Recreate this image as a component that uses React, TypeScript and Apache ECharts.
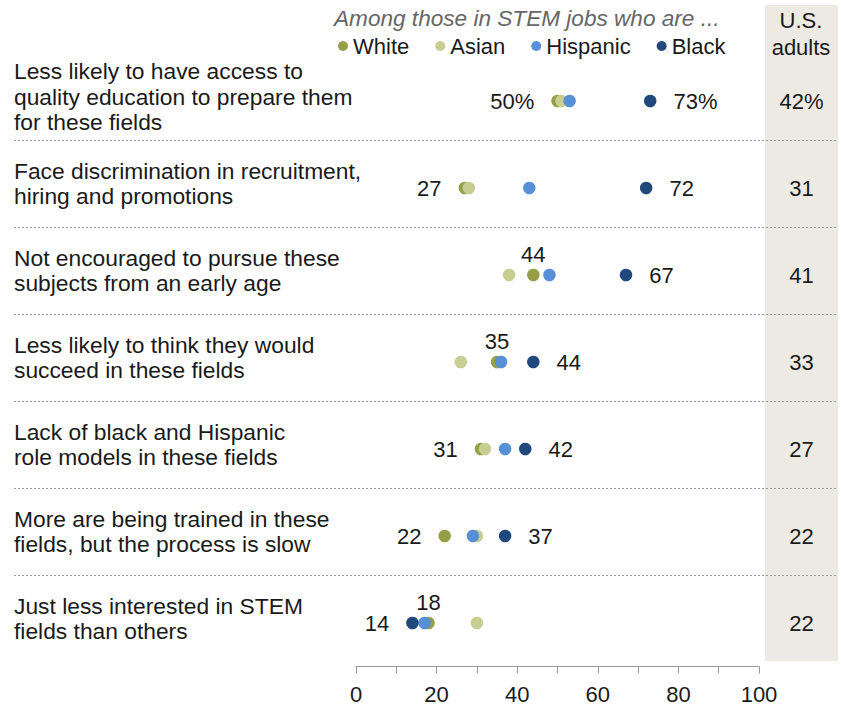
import React, { useEffect, useRef } from "react";
import * as echarts from "echarts";

const categories = [
  "Less likely to have access to\nquality education to prepare them\nfor these fields",
  "Face discrimination in recruitment,\nhiring and promotions",
  "Not encouraged to pursue these\nsubjects from an early age",
  "Less likely to think they would\nsucceed in these fields",
  "Lack of black and Hispanic\nrole models in these fields",
  "More are being trained in these\nfields, but the process is slow",
  "Just less interested in STEM\nfields than others",
];

const white = [50, 27, 44, 35, 31, 22, 18];
const asian = [51, 28, 38, 26, 32, 30, 30];
const hispanic = [53, 43, 48, 36, 37, 29, 17];
const black = [73, 72, 67, 44, 42, 37, 14];
const usAdults = [42, 31, 41, 33, 27, 22, 22];

const whiteLabelSide = ["left", "left", "top", "top", "left", "left", "top"];
const blackLabelSide = ["right", "right", "right", "right", "right", "right", "left"];

const FONT = "Liberation Sans, Arial, sans-serif";
const TXT = "#1a1a1a";

const COLORS = {
  White: "#959F48",
  Asian: "#C8CD92",
  Hispanic: "#5890D8",
  Black: "#1F487C",
};

function fmt(v: number, i: number) {
  return i === 0 ? `${v}%` : `${v}`;
}

export default function App() {
  const ref = useRef<HTMLDivElement>(null);

  useEffect(() => {
    document.body.style.margin = "0";
    if (!ref.current) return;
    const chart = echarts.init(ref.current, undefined, { renderer: "svg" });

    const labelStyle = {
      fontSize: 22,
      fontFamily: FONT,
      color: TXT,
      textBorderWidth: 0,
      opacity: 1,
    };

    const dotSeries = (name: string, values: number[], sides: string[] | null) => ({
      type: "scatter",
      name,
      xAxisIndex: 0,
      yAxisIndex: 0,
      symbol: "circle",
      symbolSize: 12.5,
      itemStyle: { color: (COLORS as any)[name], opacity: 1 },
      emphasis: { disabled: true },
      data: values.map((v, i) => {
        const d: any = { value: [v, categories[i]] };
        if (sides) {
          const side = sides[i];
          d.label = {
            show: true,
            position: side,
            distance: side === "top" ? 3 : 17,
            formatter: fmt(v, i),
            ...labelStyle,
          };
        }
        return d;
      }),
      z: 3,
    });

    chart.setOption({
      animation: false,
      title: [
        {
          text: "Among those in STEM jobs who are ...",
          left: 334,
          top: 7,
          padding: 0,
          textStyle: {
            fontSize: 22.6,
            fontStyle: "italic",
            fontWeight: "normal",
            fontFamily: FONT,
            color: "#666666",
          },
        },
        {
          text: "U.S.\nadults",
          left: 801,
          textAlign: "center",
          top: 7,
          padding: 0,
          textStyle: {
            fontSize: 22,
            fontWeight: "normal",
            fontFamily: FONT,
            color: TXT,
            lineHeight: 27,
          },
        },
      ],
      legend: {
        data: ["White", "Asian", "Hispanic", "Black"],
        left: 338,
        top: 35,
        padding: 0,
        icon: "circle",
        itemWidth: 10,
        itemHeight: 10,
        itemGap: 26,
        selectedMode: false,
        textStyle: { fontSize: 22, fontFamily: FONT, color: TXT },
      },
      graphic: [
        {
          type: "rect",
          z: -10,
          silent: true,
          shape: { x: 765, y: 5, width: 73, height: 656 },
          style: { fill: "#EDEAE3" },
        },
      ],
      grid: [
        { left: 356, right: 82, top: 57.5, height: 609, containLabel: false },
        { left: 14, right: 3, top: 53, height: 609, containLabel: false },
        { left: 765, right: 3, top: 57.5, height: 609, containLabel: false },
      ],
      xAxis: [
        {
          type: "value",
          gridIndex: 0,
          min: 0,
          max: 100,
          interval: 10,
          splitLine: { show: false },
          axisLine: { show: true, lineStyle: { color: "#999999", width: 1 } },
          axisTick: { show: true, length: 7, lineStyle: { color: "#999999" } },
          axisLabel: {
            margin: 17,
            fontSize: 22,
            fontFamily: FONT,
            color: TXT,
            formatter: (v: number) => (v % 20 === 0 ? String(v) : ""),
          },
        },
        { type: "value", gridIndex: 1, min: 0, max: 1, show: false },
        { type: "value", gridIndex: 2, min: 0, max: 1, show: false },
      ],
      yAxis: [
        {
          type: "category",
          gridIndex: 0,
          data: categories,
          inverse: true,
          axisLine: { show: false },
          axisTick: { show: false },
          splitLine: { show: false },
          axisLabel: { show: false },
        },
        {
          type: "category",
          gridIndex: 1,
          data: categories,
          inverse: true,
          axisLine: { show: false },
          axisTick: { show: false },
          axisLabel: {
            show: true,
            interval: 0,
            align: "left",
            margin: 0,
            fontSize: 22.8,
            lineHeight: 25.5,
            fontFamily: FONT,
            color: TXT,
          },
          splitLine: {
            show: true,
            showMinLine: false,
            showMaxLine: false,
            interval: 0,
            lineStyle: { color: "#9a9a9a", type: [2, 2], width: 1 },
          },
        },
        {
          type: "category",
          gridIndex: 2,
          data: categories,
          inverse: true,
          show: false,
        },
      ],
      series: [
        dotSeries("White", white, whiteLabelSide),
        dotSeries("Asian", asian, null),
        dotSeries("Hispanic", hispanic, null),
        dotSeries("Black", black, blackLabelSide),
        {
          type: "scatter",
          name: "U.S. adults",
          xAxisIndex: 2,
          yAxisIndex: 2,
          symbolSize: 1,
          itemStyle: { color: "rgba(0,0,0,0)" },
          emphasis: { disabled: true },
          label: {
            show: true,
            position: "inside",
            ...labelStyle,
            formatter: (p: any) => fmt(usAdults[p.dataIndex], p.dataIndex),
          },
          data: usAdults.map((v, i) => [0.5, categories[i]]),
          z: 3,
        },
      ],
    });

    return () => chart.dispose();
  }, []);

  return <div ref={ref} style={{ width: 841, height: 708 }} />;
}
